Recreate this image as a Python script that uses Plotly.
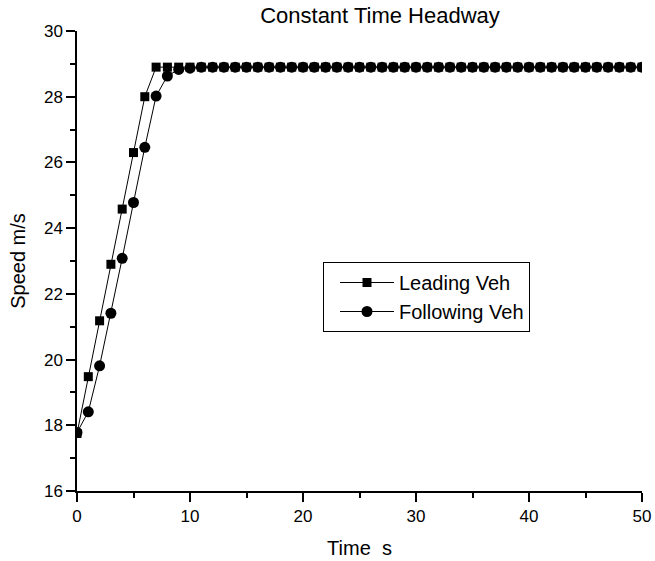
import plotly.graph_objects as go

time_s = list(range(0, 51))
leading_head = [17.75, 19.48, 21.18, 22.9, 24.58, 26.3, 28.0]
following_head = [17.78, 18.41, 19.81, 21.41, 23.08, 24.78, 26.46, 28.02, 28.63, 28.83, 28.87]
steady_speed = 28.9
leading_speed = leading_head + [steady_speed] * (len(time_s) - len(leading_head))
following_speed = following_head + [steady_speed] * (len(time_s) - len(following_head))

FONT = "Liberation Sans, Arial, sans-serif"

fig = go.Figure()
fig.add_trace(go.Scatter(
    x=time_s, y=leading_speed, mode="lines+markers", name="Leading Veh",
    line=dict(color="black", width=1),
    marker=dict(symbol="square", size=9, color="black"),
))
fig.add_trace(go.Scatter(
    x=time_s, y=following_speed, mode="lines+markers", name="Following Veh",
    line=dict(color="black", width=1),
    marker=dict(symbol="circle", size=11, color="black"),
))

axis_common = dict(
    showline=True, linecolor="black", linewidth=1.5, mirror=False,
    showgrid=False, zeroline=False, automargin=False,
    ticks="outside", ticklen=9, tickwidth=1.5, tickcolor="black",
    tickfont=dict(family=FONT, size=17, color="black"),
)

fig.update_layout(
    width=655, height=561,
    margin=dict(l=77, r=13, t=31, b=70),
    paper_bgcolor="white", plot_bgcolor="white",
    title=dict(text="Constant Time Headway", x=380/655, xanchor="center", xref="container",
               y=1 - 15/561, yanchor="middle", yref="container",
               font=dict(family=FONT, size=22, color="black")),
    xaxis=dict(range=[0, 50], dtick=10, tick0=0,
               minor=dict(dtick=5, ticks="outside", ticklen=5, tickwidth=1.5, tickcolor="black"),
               title=dict(text="Time\u00a0 s", font=dict(family=FONT, size=20, color="black"), standoff=16),
               **axis_common),
    yaxis=dict(range=[16, 30], dtick=2, tick0=16,
               minor=dict(dtick=1, ticks="outside", ticklen=5, tickwidth=1.5, tickcolor="black"),
               title=dict(text="Speed m/s", font=dict(family=FONT, size=20, color="black"), standoff=13),
               **axis_common),
    showlegend=True,
    legend=dict(x=(323-77)/565, y=(491-262)/460, xanchor="left", yanchor="top",
                bordercolor="black", borderwidth=1, bgcolor="white",
                font=dict(family=FONT, size=20, color="black"),
                itemwidth=54, indentation=11, tracegroupgap=0,
                entrywidth=215, entrywidthmode="pixels"),
)

fig.write_html("out.html", config={"displayModeBar": False},
               post_script="document.body.style.margin='0';document.body.style.overflow='hidden';")
